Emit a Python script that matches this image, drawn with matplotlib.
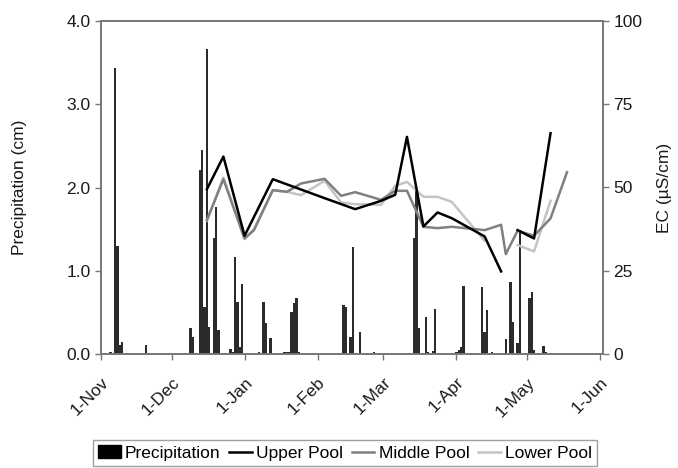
import matplotlib
matplotlib.use("Agg")
import matplotlib.pyplot as plt
import matplotlib.dates as mdates
import numpy as np
import pandas as pd
from matplotlib.patches import Patch
from matplotlib.lines import Line2D

plt.rcParams['font.family'] = ['Liberation Sans', 'DejaVu Sans']

# ---- data ----
precip_dates = ['2005-11-05', '2005-11-07', '2005-11-08', '2005-11-09', '2005-11-10', '2005-11-20',
                '2005-12-09', '2005-12-10', '2005-12-13', '2005-12-14', '2005-12-15', '2005-12-16',
                '2005-12-17', '2005-12-19', '2005-12-20', '2005-12-21', '2005-12-26', '2005-12-27',
                '2005-12-28', '2005-12-29', '2005-12-30', '2005-12-31', '2006-01-07', '2006-01-09',
                '2006-01-10', '2006-01-12', '2006-01-18', '2006-01-19', '2006-01-20', '2006-01-21',
                '2006-01-22', '2006-01-23', '2006-01-24', '2006-02-12', '2006-02-13', '2006-02-15',
                '2006-02-16', '2006-02-19', '2006-02-25', '2006-03-14', '2006-03-15', '2006-03-16',
                '2006-03-19', '2006-03-20', '2006-03-22', '2006-03-23', '2006-04-01', '2006-04-02',
                '2006-04-03', '2006-04-04', '2006-04-12', '2006-04-13', '2006-04-14', '2006-04-16',
                '2006-04-22', '2006-04-24', '2006-04-25', '2006-04-27', '2006-04-28', '2006-05-02',
                '2006-05-03', '2006-05-04', '2006-05-08', '2006-05-09']
precip_cm = [0.03, 3.43, 1.30, 0.11, 0.14, 0.11,
             0.31, 0.21, 2.21, 2.45, 0.57, 3.66,
             0.33, 1.39, 1.76, 0.29, 0.06, 0.03,
             1.17, 0.62, 0.08, 0.84, 0.02, 0.62,
             0.37, 0.19, 0.02, 0.02, 0.03, 0.51,
             0.61, 0.67, 0.02, 0.59, 0.57, 0.21,
             1.28, 0.26, 0.03, 1.39, 1.98, 0.31,
             0.44, 0.03, 0.04, 0.54, 0.03, 0.05,
             0.08, 0.82, 0.80, 0.26, 0.53, 0.02,
             0.18, 0.86, 0.39, 0.13, 1.49, 0.67,
             0.75, 0.05, 0.10, 0.02]

upper_dates = ['2005-12-16', '2005-12-23', '2006-01-01', '2006-01-13', '2006-02-04', '2006-02-17',
               '2006-02-28', '2006-03-06', '2006-03-11', '2006-03-18', '2006-03-24', '2006-03-30',
               '2006-04-13', '2006-04-20', '2006-04-24', '2006-04-27', '2006-05-04', '2006-05-11']
upper_ec = [49.5, 59.3, 35.5, 52.5, 46.8, 43.5,
            46.0, 47.8, 65.2, 38.3, 42.5, 40.8,
            35.3, 24.8, np.nan, 37.2, 34.7, 66.3]

middle_dates = ['2005-12-16', '2005-12-23', '2006-01-01', '2006-01-05', '2006-01-13', '2006-01-19',
                '2006-01-25', '2006-02-04', '2006-02-11', '2006-02-17', '2006-02-28', '2006-03-06',
                '2006-03-11', '2006-03-18', '2006-03-24', '2006-03-30', '2006-04-13', '2006-04-20',
                '2006-04-22', '2006-04-27', '2006-05-04', '2006-05-11', '2006-05-18']
middle_ec = [40.2, 52.5, 34.7, 37.2, 49.2, 48.7,
             51.2, 52.6, 47.5, 48.6, 46.3, 49.0,
             49.0, 38.2, 37.8, 38.2, 37.2, 38.8,
             30.0, 37.0, 35.5, 40.7, 54.6]

lower_dates = ['2005-12-16', '2005-12-23', '2006-01-01', '2006-01-05', '2006-01-13', '2006-01-19',
               '2006-01-25', '2006-02-04', '2006-02-11', '2006-02-17', '2006-02-28', '2006-03-06',
               '2006-03-11', '2006-03-18', '2006-03-24', '2006-03-30', '2006-04-13', '2006-04-20',
               '2006-04-27', '2006-05-04', '2006-05-11']
lower_ec = [40.0, 53.0, 34.5, 37.5, 49.2, 48.7,
            47.7, 52.0, 45.5, 45.0, 44.8, 50.5,
            51.7, 47.2, 47.2, 45.7, 34.0, np.nan,
            32.7, 30.8, 46.0]

tick_dates = ['2005-11-01', '2005-12-01', '2006-01-01', '2006-02-01', '2006-03-01',
              '2006-04-01', '2006-05-01', '2006-06-01']
tick_labels = ['1-Nov', '1-Dec', '1-Jan', '1-Feb', '1-Mar', '1-Apr', '1-May', '1-Jun']

FS = 12.5

# ---- plot ----
fig = plt.figure(figsize=(6.78, 4.68), dpi=100)
ax = fig.add_axes([101/678, 1-354/468, (603-101)/678, (354-21)/468])
ax2 = ax.twinx()

pd_ = mdates.date2num(pd.to_datetime(precip_dates))
ax.bar(pd_, precip_cm, width=1.0, color='#2b2b2b', edgecolor='none', zorder=2)

ax2.plot(mdates.date2num(pd.to_datetime(lower_dates)), lower_ec, color='#c4c4c4', lw=1.8, zorder=3)
ax2.plot(mdates.date2num(pd.to_datetime(middle_dates)), middle_ec, color='#808080', lw=1.8, zorder=4)
ax2.plot(mdates.date2num(pd.to_datetime(upper_dates)), upper_ec, color='#000000', lw=1.8, zorder=5)

t = mdates.date2num(pd.to_datetime(tick_dates))
ax.set_xlim(t[0], t[-1] + 1.3)
ax.set_ylim(0, 4.0)
ax2.set_ylim(0, 100)
ax.set_xticks(t)
ax.set_xticklabels(tick_labels, rotation=45, ha='right', rotation_mode='anchor', fontsize=FS)
ax.set_yticks([0, 1, 2, 3, 4])
ax.set_yticklabels(['0.0', '1.0', '2.0', '3.0', '4.0'], fontsize=FS)
ax2.set_yticks([0, 25, 50, 75, 100])
ax2.set_yticklabels(['0', '25', '50', '75', '100'], fontsize=FS)

spine_c = '#777777'
for a in (ax, ax2):
    for s in a.spines.values():
        s.set_color(spine_c)
        s.set_linewidth(1.2)
ax.tick_params(axis='both', colors=spine_c, labelcolor='#1a1a1a', length=4, width=1)
ax2.tick_params(axis='y', colors=spine_c, labelcolor='#1a1a1a', length=4, width=1)
ax.tick_params(axis='x', pad=11)

ax.set_ylabel('Precipitation (cm)', fontsize=FS, color='#1a1a1a')
ax.yaxis.set_label_coords((27-101)/502, 0.5)
ax2.set_ylabel('EC (µS/cm)', fontsize=FS, color='#1a1a1a')
ax2.yaxis.set_label_coords((657-101)/502, 0.5)

handles = [Patch(facecolor='#000000', edgecolor='#000000'),
           Line2D([], [], color='#000000', lw=1.8),
           Line2D([], [], color='#808080', lw=1.8),
           Line2D([], [], color='#c4c4c4', lw=1.8)]
labels = ['Precipitation', 'Upper Pool', 'Middle Pool', 'Lower Pool']
leg = fig.legend(handles, labels, loc='center', bbox_to_anchor=(345/678, 1-453/468), ncol=4,
                 frameon=True, fancybox=False, edgecolor='#888888', fontsize=FS,
                 handlelength=1.3, handletextpad=0.25, columnspacing=0.5, borderpad=0.3)
leg.get_frame().set_linewidth(1.0)

fig.savefig('out.png', dpi=100)
